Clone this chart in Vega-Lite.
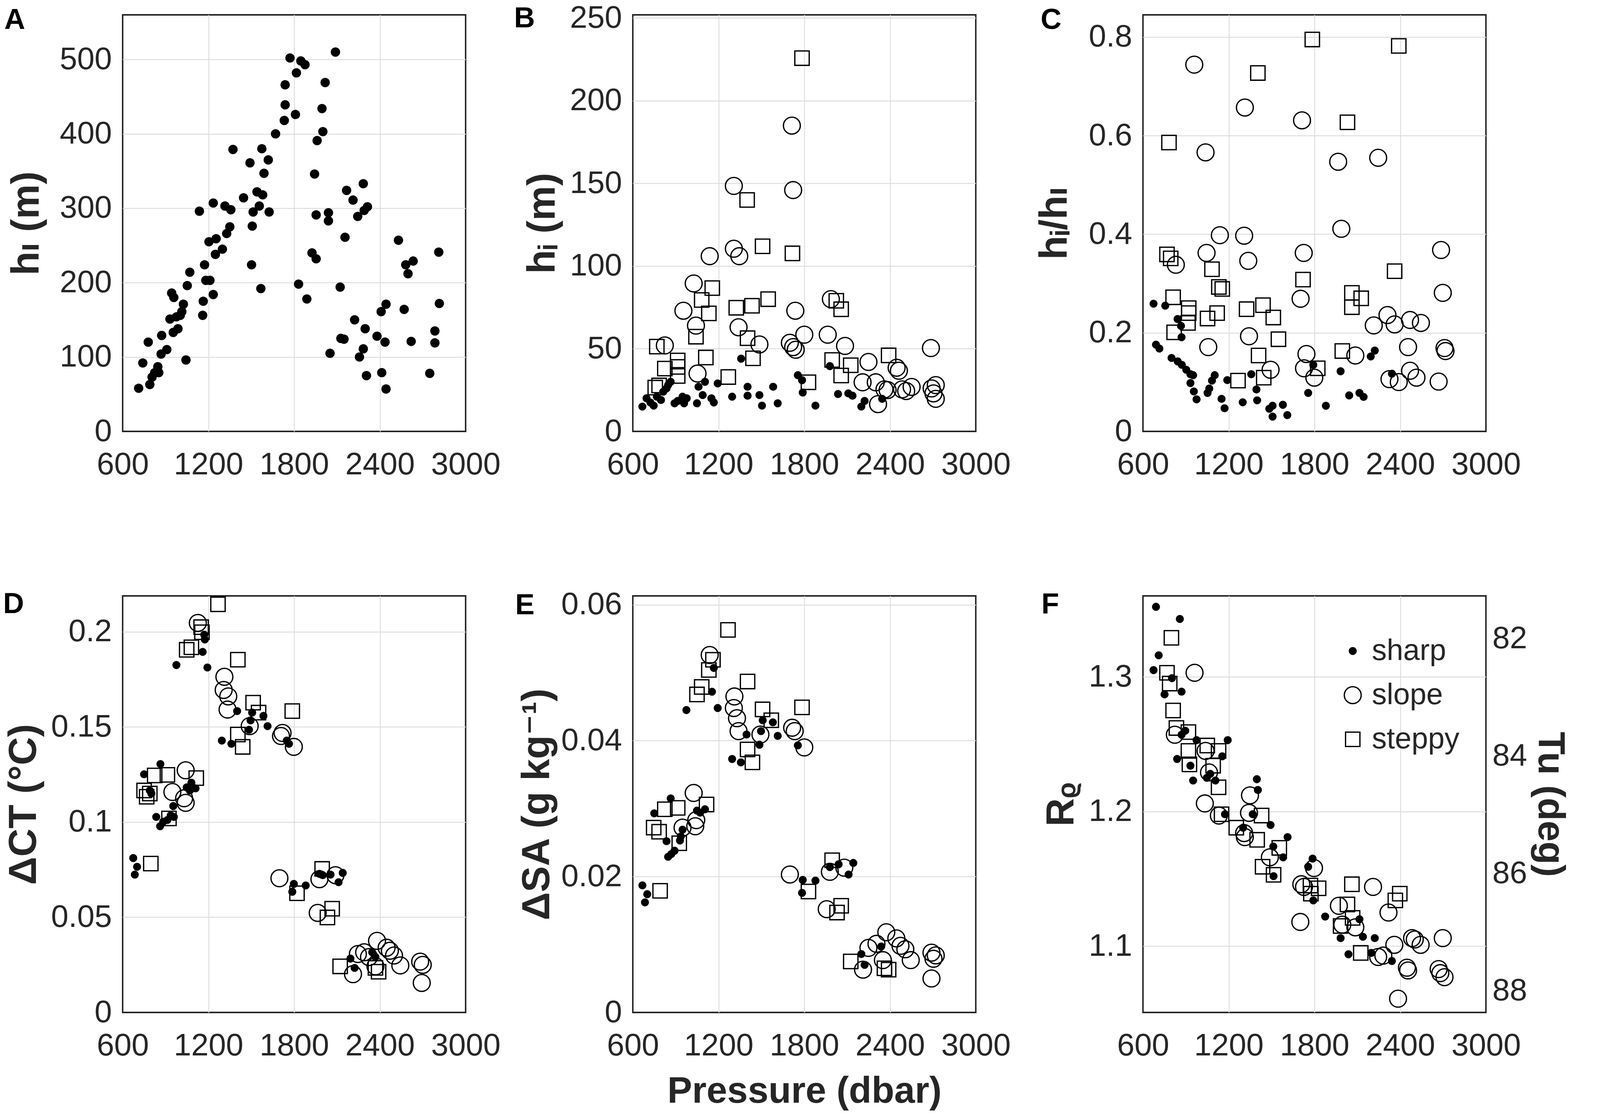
{
  "$schema": "https://vega.github.io/schema/vega-lite/v6.json",
  "background": "white",
  "padding": {"left": 6, "top": 4, "right": 0, "bottom": 0},
  "datasets": {
    "A": [
      {"p":712,"v":58},{"p":741,"v":92},{"p":779,"v":120},{"p":790,"v":63},{"p":806,"v":73},{"p":824,"v":79},{"p":846,"v":87},{"p":853,"v":79},{"p":873,"v":129},{"p":869,"v":104},
      {"p":909,"v":110},{"p":931,"v":151},{"p":943,"v":186},{"p":958,"v":180},{"p":954,"v":133},{"p":976,"v":154},{"p":987,"v":138},{"p":1003,"v":156},{"p":1014,"v":161},{"p":1025,"v":171},
      {"p":1043,"v":96},{"p":1052,"v":196},{"p":1070,"v":214},{"p":1137,"v":296},{"p":1160,"v":156},{"p":1164,"v":175},{"p":1173,"v":224},{"p":1182,"v":203},{"p":1211,"v":203},{"p":1234,"v":184},
      {"p":1204,"v":255},{"p":1234,"v":307},{"p":1254,"v":259},{"p":1249,"v":238},{"p":1298,"v":245},{"p":1316,"v":303},{"p":1328,"v":266},{"p":1350,"v":275},{"p":1357,"v":298},{"p":1372,"v":379},
      {"p":1446,"v":314},{"p":1491,"v":361},{"p":1502,"v":224},{"p":1507,"v":276},{"p":1513,"v":295},{"p":1540,"v":322},{"p":1556,"v":303},{"p":1574,"v":380},{"p":1580,"v":318},{"p":1589,"v":347},
      {"p":1619,"v":365},{"p":1567,"v":192},{"p":1625,"v":295},{"p":1670,"v":400},{"p":1731,"v":418},{"p":1737,"v":439},{"p":1737,"v":466},{"p":1771,"v":502},{"p":1809,"v":426},{"p":1816,"v":482},
      {"p":1847,"v":498},{"p":1876,"v":493},{"p":1831,"v":198},{"p":1889,"v":178},{"p":1925,"v":240},{"p":1954,"v":232},{"p":1943,"v":346},{"p":1961,"v":391},{"p":1995,"v":434},{"p":2001,"v":403},
      {"p":2017,"v":469},{"p":1954,"v":291},{"p":2040,"v":294},{"p":2040,"v":283},{"p":2051,"v":105},{"p":2089,"v":510},{"p":2122,"v":194},{"p":2127,"v":125},{"p":2149,"v":124},{"p":2156,"v":261},
      {"p":2167,"v":324},{"p":2212,"v":311},{"p":2223,"v":150},{"p":2245,"v":289},{"p":2257,"v":100},{"p":2284,"v":111},{"p":2284,"v":333},{"p":2290,"v":297},{"p":2313,"v":302},{"p":2297,"v":138},
      {"p":2306,"v":75},{"p":2380,"v":128},{"p":2413,"v":79},{"p":2409,"v":161},{"p":2443,"v":171},{"p":2436,"v":120},{"p":2443,"v":57},{"p":2530,"v":257},{"p":2570,"v":164},{"p":2581,"v":224},
      {"p":2597,"v":212},{"p":2633,"v":229},{"p":2619,"v":121},{"p":2749,"v":78},{"p":2785,"v":135},{"p":2785,"v":119},{"p":2812,"v":241},{"p":2816,"v":172}
    ],
    "B": [
      {"p":667,"v":15,"t":"sharp"},{"p":696,"v":20,"t":"sharp"},{"p":723,"v":17.5,"t":"sharp"},{"p":746,"v":15.6,"t":"sharp"},{"p":768,"v":21,"t":"sharp"},{"p":797,"v":19,"t":"sharp"},{"p":813,"v":24,"t":"sharp"},{"p":836,"v":26,"t":"sharp"},
      {"p":847,"v":28,"t":"sharp"},{"p":865,"v":30,"t":"sharp"},{"p":892,"v":17,"t":"sharp"},{"p":914,"v":18.4,"t":"sharp"},{"p":948,"v":21,"t":"sharp"},{"p":959,"v":17,"t":"sharp"},{"p":977,"v":20,"t":"sharp"},{"p":1049,"v":17,"t":"sharp"},
      {"p":1060,"v":27,"t":"sharp"},{"p":1089,"v":22,"t":"sharp"},{"p":1105,"v":30,"t":"sharp"},{"p":1150,"v":20,"t":"sharp"},{"p":1167,"v":17.5,"t":"sharp"},{"p":1194,"v":29,"t":"sharp"},{"p":1295,"v":21,"t":"sharp"},{"p":1358,"v":44,"t":"sharp"},
      {"p":1403,"v":27,"t":"sharp"},{"p":1403,"v":21.6,"t":"sharp"},{"p":1486,"v":22,"t":"sharp"},{"p":1504,"v":15.6,"t":"sharp"},{"p":1582,"v":27,"t":"sharp"},{"p":1614,"v":17,"t":"sharp"},{"p":1755,"v":34,"t":"sharp"},{"p":1784,"v":31,"t":"sharp"},
      {"p":1789,"v":23.5,"t":"sharp"},{"p":1878,"v":15.6,"t":"sharp"},{"p":1979,"v":39.5,"t":"sharp"},{"p":2036,"v":22.6,"t":"sharp"},{"p":2108,"v":23,"t":"sharp"},{"p":2137,"v":21.6,"t":"sharp"},{"p":2199,"v":15,"t":"sharp"},{"p":2222,"v":18.4,"t":"sharp"},
      {"p":2345,"v":19.7,"t":"sharp"},
      {"p":824,"v":52,"t":"slope"},{"p":954,"v":73,"t":"slope"},{"p":1026,"v":89.5,"t":"slope"},{"p":1042,"v":64,"t":"slope"},{"p":1053,"v":35,"t":"slope"},{"p":1138,"v":106,"t":"slope"},{"p":1307,"v":148.5,"t":"slope"},{"p":1307,"v":110.5,"t":"slope"},
      {"p":1345,"v":106,"t":"slope"},{"p":1340,"v":63,"t":"slope"},{"p":1486,"v":52.6,"t":"slope"},{"p":1713,"v":185,"t":"slope"},{"p":1722,"v":146,"t":"slope"},{"p":1737,"v":73,"t":"slope"},{"p":1699,"v":53.6,"t":"slope"},{"p":1722,"v":51,"t":"slope"},
      {"p":1740,"v":49.4,"t":"slope"},{"p":1800,"v":58.5,"t":"slope"},{"p":1964,"v":58.5,"t":"slope"},{"p":1986,"v":80,"t":"slope"},{"p":2085,"v":51.7,"t":"slope"},{"p":2249,"v":42,"t":"slope"},{"p":2208,"v":29.7,"t":"slope"},{"p":2300,"v":29.7,"t":"slope"},
      {"p":2316,"v":16.5,"t":"slope"},{"p":2361,"v":25.4,"t":"slope"},{"p":2383,"v":25,"t":"slope"},{"p":2446,"v":38.5,"t":"slope"},{"p":2462,"v":36.7,"t":"slope"},{"p":2484,"v":25.4,"t":"slope"},{"p":2513,"v":24.4,"t":"slope"},{"p":2551,"v":26.9,"t":"slope"},
      {"p":2686,"v":50.4,"t":"slope"},{"p":2691,"v":26,"t":"slope"},{"p":2704,"v":23,"t":"slope"},{"p":2720,"v":28,"t":"slope"},{"p":2720,"v":19.7,"t":"slope"},
      {"p":768,"v":51.3,"t":"steppy"},{"p":757,"v":26.5,"t":"steppy"},{"p":784,"v":27.8,"t":"steppy"},{"p":824,"v":38,"t":"steppy"},{"p":914,"v":42.9,"t":"steppy"},{"p":914,"v":39,"t":"steppy"},{"p":914,"v":33.5,"t":"steppy"},{"p":1042,"v":57.3,"t":"steppy"},
      {"p":1082,"v":79.5,"t":"steppy"},{"p":1132,"v":71.4,"t":"steppy"},{"p":1156,"v":86.7,"t":"steppy"},{"p":1111,"v":44.7,"t":"steppy"},{"p":1268,"v":32.9,"t":"steppy"},{"p":1324,"v":74.8,"t":"steppy"},{"p":1400,"v":140,"t":"steppy"},{"p":1403,"v":56.4,"t":"steppy"},
      {"p":1434,"v":76,"t":"steppy"},{"p":1441,"v":44.2,"t":"steppy"},{"p":1508,"v":112,"t":"steppy"},{"p":1547,"v":80,"t":"steppy"},{"p":1717,"v":107.7,"t":"steppy"},{"p":1784,"v":225.8,"t":"steppy"},{"p":1829,"v":29.7,"t":"steppy"},{"p":1995,"v":43.2,"t":"steppy"},
      {"p":2024,"v":79,"t":"steppy"},{"p":2058,"v":73.9,"t":"steppy"},{"p":2058,"v":33.8,"t":"steppy"},{"p":2125,"v":40,"t":"steppy"},{"p":2390,"v":46,"t":"steppy"}
    ],
    "C": [
      {"p":674,"v":0.259,"t":"sharp"},{"p":756,"v":0.255,"t":"sharp"},{"p":691,"v":0.176,"t":"sharp"},{"p":715,"v":0.168,"t":"sharp"},{"p":842,"v":0.228,"t":"sharp"},{"p":866,"v":0.214,"t":"sharp"},{"p":870,"v":0.191,"t":"sharp"},{"p":800,"v":0.149,"t":"sharp"},
      {"p":843,"v":0.142,"t":"sharp"},{"p":872,"v":0.135,"t":"sharp"},{"p":903,"v":0.125,"t":"sharp"},{"p":932,"v":0.116,"t":"sharp"},{"p":951,"v":0.114,"t":"sharp"},{"p":932,"v":0.098,"t":"sharp"},{"p":956,"v":0.081,"t":"sharp"},{"p":975,"v":0.065,"t":"sharp"},
      {"p":1052,"v":0.078,"t":"sharp"},{"p":1064,"v":0.087,"t":"sharp"},{"p":1083,"v":0.103,"t":"sharp"},{"p":1102,"v":0.114,"t":"sharp"},{"p":1150,"v":0.066,"t":"sharp"},{"p":1171,"v":0.047,"t":"sharp"},{"p":1190,"v":0.104,"t":"sharp"},{"p":1298,"v":0.059,"t":"sharp"},
      {"p":1358,"v":0.116,"t":"sharp"},{"p":1394,"v":0.085,"t":"sharp"},{"p":1399,"v":0.063,"t":"sharp"},{"p":1484,"v":0.046,"t":"sharp"},{"p":1507,"v":0.052,"t":"sharp"},{"p":1507,"v":0.030,"t":"sharp"},{"p":1579,"v":0.054,"t":"sharp"},{"p":1610,"v":0.033,"t":"sharp"},
      {"p":1756,"v":0.078,"t":"sharp"},{"p":1792,"v":0.135,"t":"sharp"},{"p":1880,"v":0.052,"t":"sharp"},{"p":1983,"v":0.122,"t":"sharp"},{"p":2043,"v":0.073,"t":"sharp"},{"p":2115,"v":0.078,"t":"sharp"},{"p":2144,"v":0.070,"t":"sharp"},{"p":2194,"v":0.152,"t":"sharp"},
      {"p":2222,"v":0.164,"t":"sharp"},{"p":2342,"v":0.117,"t":"sharp"},
      {"p":959,"v":0.744,"t":"slope"},{"p":830,"v":0.338,"t":"slope"},{"p":1038,"v":0.566,"t":"slope"},{"p":1045,"v":0.362,"t":"slope"},{"p":1057,"v":0.171,"t":"slope"},{"p":1138,"v":0.398,"t":"slope"},{"p":1313,"v":0.657,"t":"slope"},{"p":1308,"v":0.397,"t":"slope"},
      {"p":1337,"v":0.346,"t":"slope"},{"p":1342,"v":0.193,"t":"slope"},{"p":1493,"v":0.125,"t":"slope"},{"p":1713,"v":0.631,"t":"slope"},{"p":1725,"v":0.362,"t":"slope"},{"p":1703,"v":0.269,"t":"slope"},{"p":1744,"v":0.157,"t":"slope"},{"p":1727,"v":0.128,"t":"slope"},
      {"p":1799,"v":0.109,"t":"slope"},{"p":1966,"v":0.547,"t":"slope"},{"p":1988,"v":0.411,"t":"slope"},{"p":2086,"v":0.154,"t":"slope"},{"p":2246,"v":0.555,"t":"slope"},{"p":2215,"v":0.215,"t":"slope"},{"p":2311,"v":0.236,"t":"slope"},{"p":2361,"v":0.217,"t":"slope"},
      {"p":2325,"v":0.106,"t":"slope"},{"p":2390,"v":0.100,"t":"slope"},{"p":2469,"v":0.226,"t":"slope"},{"p":2545,"v":0.220,"t":"slope"},{"p":2455,"v":0.171,"t":"slope"},{"p":2469,"v":0.123,"t":"slope"},{"p":2514,"v":0.109,"t":"slope"},{"p":2669,"v":0.101,"t":"slope"},
      {"p":2686,"v":0.368,"t":"slope"},{"p":2698,"v":0.281,"t":"slope"},{"p":2710,"v":0.169,"t":"slope"},{"p":2717,"v":0.163,"t":"slope"},
      {"p":782,"v":0.586,"t":"steppy"},{"p":768,"v":0.359,"t":"steppy"},{"p":794,"v":0.351,"t":"steppy"},{"p":811,"v":0.272,"t":"steppy"},{"p":818,"v":0.201,"t":"steppy"},{"p":920,"v":0.250,"t":"steppy"},{"p":920,"v":0.240,"t":"steppy"},{"p":915,"v":0.220,"t":"steppy"},
      {"p":1052,"v":0.229,"t":"steppy"},{"p":1083,"v":0.329,"t":"steppy"},{"p":1131,"v":0.293,"t":"steppy"},{"p":1155,"v":0.289,"t":"steppy"},{"p":1119,"v":0.240,"t":"steppy"},{"p":1265,"v":0.103,"t":"steppy"},{"p":1325,"v":0.248,"t":"steppy"},{"p":1404,"v":0.727,"t":"steppy"},
      {"p":1409,"v":0.154,"t":"steppy"},{"p":1440,"v":0.256,"t":"steppy"},{"p":1445,"v":0.109,"t":"steppy"},{"p":1512,"v":0.231,"t":"steppy"},{"p":1548,"v":0.187,"t":"steppy"},{"p":1720,"v":0.308,"t":"steppy"},{"p":1785,"v":0.795,"t":"steppy"},{"p":1823,"v":0.128,"t":"steppy"},
      {"p":1995,"v":0.163,"t":"steppy"},{"p":2031,"v":0.627,"t":"steppy"},{"p":2062,"v":0.281,"t":"steppy"},{"p":2062,"v":0.252,"t":"steppy"},{"p":2127,"v":0.270,"t":"steppy"},{"p":2390,"v":0.782,"t":"steppy"},{"p":2361,"v":0.325,"t":"steppy"}
    ],
    "D": [
      {"p":674,"v":0.0811,"t":"sharp"},{"p":685,"v":0.0724,"t":"sharp"},{"p":701,"v":0.0765,"t":"sharp"},{"p":750,"v":0.1251,"t":"sharp"},{"p":790,"v":0.1166,"t":"sharp"},{"p":801,"v":0.1150,"t":"sharp"},{"p":864,"v":0.1305,"t":"sharp"},{"p":835,"v":0.1027,"t":"sharp"},
      {"p":862,"v":0.0978,"t":"sharp"},{"p":884,"v":0.1002,"t":"sharp"},{"p":913,"v":0.1011,"t":"sharp"},{"p":936,"v":0.1035,"t":"sharp"},{"p":954,"v":0.1084,"t":"sharp"},{"p":958,"v":0.1027,"t":"sharp"},{"p":1048,"v":0.1182,"t":"sharp"},{"p":1070,"v":0.1166,"t":"sharp"},
      {"p":1081,"v":0.1207,"t":"sharp"},{"p":1110,"v":0.1177,"t":"sharp"},{"p":976,"v":0.1825,"t":"sharp"},{"p":1160,"v":0.1894,"t":"sharp"},{"p":1175,"v":0.1959,"t":"sharp"},{"p":1171,"v":0.1984,"t":"sharp"},{"p":1193,"v":0.1812,"t":"sharp"},{"p":1294,"v":0.1428,"t":"sharp"},
      {"p":1361,"v":0.1411,"t":"sharp"},{"p":1401,"v":0.1583,"t":"sharp"},{"p":1484,"v":0.1485,"t":"sharp"},{"p":1495,"v":0.1534,"t":"sharp"},{"p":1506,"v":0.1575,"t":"sharp"},{"p":1585,"v":0.1558,"t":"sharp"},{"p":1614,"v":0.1504,"t":"sharp"},{"p":1764,"v":0.1411,"t":"sharp"},
      {"p":1748,"v":0.1428,"t":"sharp"},{"p":1798,"v":0.0675,"t":"sharp"},{"p":1787,"v":0.0634,"t":"sharp"},{"p":1881,"v":0.0667,"t":"sharp"},{"p":1977,"v":0.0728,"t":"sharp"},{"p":2000,"v":0.0721,"t":"sharp"},{"p":2055,"v":0.0724,"t":"sharp"},{"p":2111,"v":0.0684,"t":"sharp"},
      {"p":2140,"v":0.0733,"t":"sharp"},{"p":2194,"v":0.0283,"t":"sharp"},{"p":2223,"v":0.0234,"t":"sharp"},{"p":2346,"v":0.0316,"t":"sharp"},{"p":2369,"v":0.0291,"t":"sharp"},
      {"p":1041,"v":0.1272,"t":"slope"},{"p":948,"v":0.1158,"t":"slope"},{"p":1030,"v":0.1125,"t":"slope"},{"p":1041,"v":0.1101,"t":"slope"},{"p":1126,"v":0.2046,"t":"slope"},{"p":1312,"v":0.1763,"t":"slope"},{"p":1307,"v":0.1694,"t":"slope"},{"p":1339,"v":0.1660,"t":"slope"},
      {"p":1334,"v":0.1591,"t":"slope"},{"p":1489,"v":0.1504,"t":"slope"},{"p":1719,"v":0.1468,"t":"slope"},{"p":1708,"v":0.1452,"t":"slope"},{"p":1798,"v":0.1395,"t":"slope"},{"p":1697,"v":0.0705,"t":"slope"},{"p":1977,"v":0.0700,"t":"slope"},{"p":2089,"v":0.0721,"t":"slope"},
      {"p":1965,"v":0.0523,"t":"slope"},{"p":2212,"v":0.0201,"t":"slope"},{"p":2246,"v":0.0307,"t":"slope"},{"p":2290,"v":0.0316,"t":"slope"},{"p":2324,"v":0.0291,"t":"slope"},{"p":2369,"v":0.0242,"t":"slope"},{"p":2380,"v":0.0376,"t":"slope"},{"p":2447,"v":0.0340,"t":"slope"},
      {"p":2470,"v":0.0324,"t":"slope"},{"p":2499,"v":0.0299,"t":"slope"},{"p":2543,"v":0.0247,"t":"slope"},{"p":2682,"v":0.0267,"t":"slope"},{"p":2700,"v":0.0250,"t":"slope"},{"p":2693,"v":0.0155,"t":"slope"},
      {"p":1267,"v":0.2144,"t":"steppy"},{"p":1149,"v":0.2024,"t":"steppy"},{"p":1155,"v":0.1997,"t":"steppy"},{"p":1048,"v":0.1905,"t":"steppy"},{"p":1081,"v":0.1918,"t":"steppy"},{"p":1406,"v":0.1853,"t":"steppy"},{"p":1513,"v":0.1627,"t":"steppy"},{"p":1551,"v":0.1575,"t":"steppy"},
      {"p":1787,"v":0.1583,"t":"steppy"},{"p":1406,"v":0.1460,"t":"steppy"},{"p":1440,"v":0.1395,"t":"steppy"},{"p":750,"v":0.1166,"t":"steppy"},{"p":768,"v":0.1133,"t":"steppy"},{"p":790,"v":0.1150,"t":"steppy"},{"p":824,"v":0.1245,"t":"steppy"},{"p":913,"v":0.1248,"t":"steppy"},
      {"p":1115,"v":0.1231,"t":"steppy"},{"p":924,"v":0.1019,"t":"steppy"},{"p":797,"v":0.0782,"t":"steppy"},{"p":1996,"v":0.0754,"t":"steppy"},{"p":1820,"v":0.0626,"t":"steppy"},{"p":2066,"v":0.0545,"t":"steppy"},{"p":2033,"v":0.0499,"t":"steppy"},{"p":2122,"v":0.0242,"t":"steppy"},
      {"p":2369,"v":0.0234,"t":"steppy"},{"p":2391,"v":0.0214,"t":"steppy"}
    ],
    "E": [
      {"p":667,"v":0.0187,"t":"sharp"},{"p":701,"v":0.0174,"t":"sharp"},{"p":685,"v":0.0162,"t":"sharp"},{"p":750,"v":0.0293,"t":"sharp"},{"p":865,"v":0.0315,"t":"sharp"},{"p":836,"v":0.0252,"t":"sharp"},{"p":847,"v":0.0229,"t":"sharp"},{"p":869,"v":0.0233,"t":"sharp"},
      {"p":892,"v":0.0238,"t":"sharp"},{"p":930,"v":0.0253,"t":"sharp"},{"p":948,"v":0.0269,"t":"sharp"},{"p":936,"v":0.0259,"t":"sharp"},{"p":1049,"v":0.0297,"t":"sharp"},{"p":1071,"v":0.0294,"t":"sharp"},{"p":1105,"v":0.0299,"t":"sharp"},{"p":975,"v":0.0445,"t":"sharp"},
      {"p":1154,"v":0.0472,"t":"sharp"},{"p":1167,"v":0.0507,"t":"sharp"},{"p":1194,"v":0.0448,"t":"sharp"},{"p":1295,"v":0.0373,"t":"sharp"},{"p":1356,"v":0.0368,"t":"sharp"},{"p":1396,"v":0.0409,"t":"sharp"},{"p":1486,"v":0.0394,"t":"sharp"},{"p":1497,"v":0.0414,"t":"sharp"},
      {"p":1509,"v":0.0430,"t":"sharp"},{"p":1580,"v":0.0427,"t":"sharp"},{"p":1614,"v":0.0407,"t":"sharp"},{"p":1755,"v":0.0393,"t":"sharp"},{"p":1789,"v":0.0195,"t":"sharp"},{"p":1784,"v":0.0176,"t":"sharp"},{"p":1878,"v":0.0194,"t":"sharp"},{"p":1979,"v":0.0214,"t":"sharp"},
      {"p":2040,"v":0.0218,"t":"sharp"},{"p":2110,"v":0.0203,"t":"sharp"},{"p":2143,"v":0.0220,"t":"sharp"},{"p":2199,"v":0.0086,"t":"sharp"},{"p":2222,"v":0.0070,"t":"sharp"},{"p":2338,"v":0.0097,"t":"sharp"},
      {"p":1138,"v":0.0526,"t":"slope"},{"p":1311,"v":0.0465,"t":"slope"},{"p":1307,"v":0.0448,"t":"slope"},{"p":1329,"v":0.0433,"t":"slope"},{"p":1340,"v":0.0414,"t":"slope"},{"p":1493,"v":0.0409,"t":"slope"},{"p":1715,"v":0.0419,"t":"slope"},{"p":1733,"v":0.0414,"t":"slope"},
      {"p":1800,"v":0.0390,"t":"slope"},{"p":1026,"v":0.0323,"t":"slope"},{"p":948,"v":0.0272,"t":"slope"},{"p":1044,"v":0.0283,"t":"slope"},{"p":1037,"v":0.0274,"t":"slope"},{"p":1699,"v":0.0203,"t":"slope"},{"p":1979,"v":0.0207,"t":"slope"},{"p":2080,"v":0.0213,"t":"slope"},
      {"p":1957,"v":0.0152,"t":"slope"},{"p":2249,"v":0.0095,"t":"slope"},{"p":2211,"v":0.0063,"t":"slope"},{"p":2305,"v":0.0101,"t":"slope"},{"p":2374,"v":0.0118,"t":"slope"},{"p":2444,"v":0.0109,"t":"slope"},{"p":2473,"v":0.0098,"t":"slope"},{"p":2507,"v":0.0093,"t":"slope"},
      {"p":2545,"v":0.0077,"t":"slope"},{"p":2690,"v":0.0088,"t":"slope"},{"p":2704,"v":0.0079,"t":"slope"},{"p":2720,"v":0.0084,"t":"slope"},{"p":2690,"v":0.0050,"t":"slope"},{"p":2350,"v":0.0077,"t":"slope"},
      {"p":1266,"v":0.0563,"t":"steppy"},{"p":1161,"v":0.0519,"t":"steppy"},{"p":1132,"v":0.0504,"t":"steppy"},{"p":1082,"v":0.0479,"t":"steppy"},{"p":1049,"v":0.0468,"t":"steppy"},{"p":1403,"v":0.0487,"t":"steppy"},{"p":1508,"v":0.0446,"t":"steppy"},{"p":1569,"v":0.0430,"t":"steppy"},
      {"p":1784,"v":0.0449,"t":"steppy"},{"p":1403,"v":0.0387,"t":"steppy"},{"p":1437,"v":0.0368,"t":"steppy"},{"p":746,"v":0.0272,"t":"steppy"},{"p":784,"v":0.0266,"t":"steppy"},{"p":824,"v":0.0299,"t":"steppy"},{"p":914,"v":0.0301,"t":"steppy"},{"p":1116,"v":0.0306,"t":"steppy"},
      {"p":925,"v":0.0249,"t":"steppy"},{"p":791,"v":0.0179,"t":"steppy"},{"p":1995,"v":0.0224,"t":"steppy"},{"p":1829,"v":0.0178,"t":"steppy"},{"p":2058,"v":0.0157,"t":"steppy"},{"p":2029,"v":0.0147,"t":"steppy"},{"p":2125,"v":0.0075,"t":"steppy"},{"p":2361,"v":0.0065,"t":"steppy"},
      {"p":2390,"v":0.0063,"t":"steppy"}
    ],
    "F": [
      {"p":691,"v":1.352,"t":"sharp"},{"p":710,"v":1.316,"t":"sharp"},{"p":674,"v":1.305,"t":"sharp"},{"p":751,"v":1.287,"t":"sharp"},{"p":803,"v":1.299,"t":"sharp"},{"p":858,"v":1.343,"t":"sharp"},{"p":870,"v":1.289,"t":"sharp"},{"p":839,"v":1.239,"t":"sharp"},
      {"p":870,"v":1.257,"t":"sharp"},{"p":896,"v":1.260,"t":"sharp"},{"p":932,"v":1.234,"t":"sharp"},{"p":951,"v":1.223,"t":"sharp"},{"p":975,"v":1.253,"t":"sharp"},{"p":1047,"v":1.225,"t":"sharp"},{"p":1071,"v":1.228,"t":"sharp"},{"p":1107,"v":1.223,"t":"sharp"},
      {"p":1155,"v":1.241,"t":"sharp"},{"p":1193,"v":1.253,"t":"sharp"},{"p":1174,"v":1.198,"t":"sharp"},{"p":1301,"v":1.188,"t":"sharp"},{"p":1397,"v":1.224,"t":"sharp"},{"p":1404,"v":1.216,"t":"sharp"},{"p":1368,"v":1.198,"t":"sharp"},{"p":1493,"v":1.190,"t":"sharp"},
      {"p":1612,"v":1.181,"t":"sharp"},{"p":1512,"v":1.174,"t":"sharp"},{"p":1581,"v":1.166,"t":"sharp"},{"p":1514,"v":1.152,"t":"sharp"},{"p":1756,"v":1.159,"t":"sharp"},{"p":1787,"v":1.165,"t":"sharp"},{"p":1792,"v":1.134,"t":"sharp"},{"p":1875,"v":1.122,"t":"sharp"},
      {"p":1983,"v":1.106,"t":"sharp"},{"p":2038,"v":1.094,"t":"sharp"},{"p":2115,"v":1.120,"t":"sharp"},{"p":2139,"v":1.107,"t":"sharp"},{"p":2222,"v":1.106,"t":"sharp"},{"p":2198,"v":1.095,"t":"sharp"},{"p":2342,"v":1.089,"t":"sharp"},
      {"p":961,"v":1.303,"t":"slope"},{"p":823,"v":1.257,"t":"slope"},{"p":1038,"v":1.245,"t":"slope"},{"p":1062,"v":1.229,"t":"slope"},{"p":1033,"v":1.206,"t":"slope"},{"p":1131,"v":1.197,"t":"slope"},{"p":1349,"v":1.212,"t":"slope"},{"p":1342,"v":1.199,"t":"slope"},
      {"p":1308,"v":1.184,"t":"slope"},{"p":1313,"v":1.181,"t":"slope"},{"p":1488,"v":1.166,"t":"slope"},{"p":1797,"v":1.158,"t":"slope"},{"p":1708,"v":1.146,"t":"slope"},{"p":1727,"v":1.144,"t":"slope"},{"p":1701,"v":1.118,"t":"slope"},{"p":1971,"v":1.130,"t":"slope"},
      {"p":1995,"v":1.116,"t":"slope"},{"p":2086,"v":1.114,"t":"slope"},{"p":2210,"v":1.144,"t":"slope"},{"p":2318,"v":1.125,"t":"slope"},{"p":2246,"v":1.092,"t":"slope"},{"p":2282,"v":1.093,"t":"slope"},{"p":2359,"v":1.101,"t":"slope"},{"p":2385,"v":1.061,"t":"slope"},
      {"p":2447,"v":1.084,"t":"slope"},{"p":2455,"v":1.082,"t":"slope"},{"p":2483,"v":1.106,"t":"slope"},{"p":2502,"v":1.105,"t":"slope"},{"p":2543,"v":1.101,"t":"slope"},{"p":2698,"v":1.106,"t":"slope"},{"p":2669,"v":1.083,"t":"slope"},{"p":2681,"v":1.080,"t":"slope"},
      {"p":2710,"v":1.077,"t":"slope"},
      {"p":799,"v":1.329,"t":"steppy"},{"p":768,"v":1.303,"t":"steppy"},{"p":787,"v":1.295,"t":"steppy"},{"p":811,"v":1.275,"t":"steppy"},{"p":834,"v":1.262,"t":"steppy"},{"p":918,"v":1.259,"t":"steppy"},{"p":918,"v":1.245,"t":"steppy"},{"p":1050,"v":1.249,"t":"steppy"},
      {"p":1129,"v":1.245,"t":"steppy"},{"p":1091,"v":1.234,"t":"steppy"},{"p":925,"v":1.235,"t":"steppy"},{"p":1129,"v":1.218,"t":"steppy"},{"p":1150,"v":1.198,"t":"steppy"},{"p":1253,"v":1.188,"t":"steppy"},{"p":1430,"v":1.197,"t":"steppy"},{"p":1399,"v":1.179,"t":"steppy"},
      {"p":1554,"v":1.173,"t":"steppy"},{"p":1437,"v":1.159,"t":"steppy"},{"p":1514,"v":1.153,"t":"steppy"},{"p":1772,"v":1.145,"t":"steppy"},{"p":1829,"v":1.143,"t":"steppy"},{"p":1775,"v":1.139,"t":"steppy"},{"p":2062,"v":1.146,"t":"steppy"},{"p":2031,"v":1.131,"t":"steppy"},
      {"p":2067,"v":1.121,"t":"steppy"},{"p":1983,"v":1.115,"t":"steppy"},{"p":2124,"v":1.095,"t":"steppy"},{"p":2397,"v":1.139,"t":"steppy"},{"p":2366,"v":1.134,"t":"steppy"}
    ],
    "TuAxis": [{"tu": 81.27}, {"tu": 88.37}]
  },
  "columns": 3,
  "spacing": {"row": 421, "column": 428},
  "bounds": "flush",
  "resolve": {"scale": {"shape": "independent", "fill": "independent", "size": "independent", "stroke": "independent"}},
  "concat": [
    {
      "width": 878, "height": 1066,
      "title": {"text": "A", "dx": -303, "dy": 56},
      "data": {"name": "A"},
      "mark": {"type": "circle", "size": 572, "color": "black", "opacity": 1},
      "encoding": {
        "x": {"field": "p", "type": "quantitative", "scale": {"domain": [600, 3000], "nice": false, "zero": false}, "axis": {"values": [600, 1200, 1800, 2400, 3000], "title": null}},
        "y": {"field": "v", "type": "quantitative", "scale": {"domain": [0, 560], "nice": false}, "axis": {"values": [0, 100, 200, 300, 400, 500], "title": "hₗ (m)", "titlePadding": 33}}
      }
    },
    {
      "width": 878, "height": 1066,
      "title": {"text": "B", "dx": -304, "dy": 84},
      "data": {"name": "B"},
      "mark": {"type": "point", "filled": false, "stroke": "black", "strokeWidth": 3.3, "opacity": 1},
      "encoding": {
        "x": {"field": "p", "type": "quantitative", "scale": {"domain": [600, 3000], "nice": false, "zero": false}, "axis": {"values": [600, 1200, 1800, 2400, 3000], "title": null}},
        "y": {"field": "v", "type": "quantitative", "scale": {"domain": [0, 252], "nice": false}, "axis": {"values": [0, 50, 100, 150, 200, 250], "title": "hᵢ (m)", "titlePadding": 18}},
        "shape": {"field": "t", "type": "nominal", "scale": {"domain": ["sharp", "slope", "steppy"], "range": ["circle", "circle", "square"]}, "legend": null},
        "fill": {"field": "t", "type": "nominal", "scale": {"domain": ["sharp", "slope", "steppy"], "range": ["black", "transparent", "transparent"]}, "legend": null},
        "size": {"field": "t", "type": "nominal", "scale": {"type": "ordinal", "domain": ["sharp", "slope", "steppy"], "range": [300, 1870, 1354]}, "legend": null}
      }
    },
    {
      "width": 878, "height": 1066,
      "title": {"text": "C", "dx": -262, "dy": 56},
      "data": {"name": "C"},
      "mark": {"type": "point", "filled": false, "stroke": "black", "strokeWidth": 3.3, "opacity": 1},
      "encoding": {
        "x": {"field": "p", "type": "quantitative", "scale": {"domain": [600, 3000], "nice": false, "zero": false}, "axis": {"values": [600, 1200, 1800, 2400, 3000], "title": null}},
        "y": {"field": "v", "type": "quantitative", "scale": {"domain": [0, 0.845], "nice": false}, "axis": {"values": [0, 0.2, 0.4, 0.6, 0.8], "title": "hᵢ/hₗ", "titlePadding": 35}},
        "shape": {"field": "t", "type": "nominal", "scale": {"domain": ["sharp", "slope", "steppy"], "range": ["circle", "circle", "square"]}, "legend": null},
        "fill": {"field": "t", "type": "nominal", "scale": {"domain": ["sharp", "slope", "steppy"], "range": ["black", "transparent", "transparent"]}, "legend": null},
        "size": {"field": "t", "type": "nominal", "scale": {"type": "ordinal", "domain": ["sharp", "slope", "steppy"], "range": [300, 1870, 1354]}, "legend": null}
      }
    },
    {
      "width": 878, "height": 1066,
      "title": {"text": "D", "dx": -306, "dy": 68},
      "data": {"name": "D"},
      "mark": {"type": "point", "filled": false, "stroke": "black", "strokeWidth": 3.3, "opacity": 1},
      "encoding": {
        "x": {"field": "p", "type": "quantitative", "scale": {"domain": [600, 3000], "nice": false, "zero": false}, "axis": {"values": [600, 1200, 1800, 2400, 3000], "title": null}},
        "y": {"field": "v", "type": "quantitative", "scale": {"domain": [0, 0.2188], "nice": false}, "axis": {"values": [0, 0.05, 0.1, 0.15, 0.2], "title": "ΔCT (°C)", "titlePadding": 18}},
        "shape": {"field": "t", "type": "nominal", "scale": {"domain": ["sharp", "slope", "steppy"], "range": ["circle", "circle", "square"]}, "legend": null},
        "fill": {"field": "t", "type": "nominal", "scale": {"domain": ["sharp", "slope", "steppy"], "range": ["black", "transparent", "transparent"]}, "legend": null},
        "size": {"field": "t", "type": "nominal", "scale": {"type": "ordinal", "domain": ["sharp", "slope", "steppy"], "range": [300, 1870, 1354]}, "legend": null}
      }
    },
    {
      "width": 878, "height": 1066,
      "title": {"text": "E", "dx": -301, "dy": 84},
      "data": {"name": "E"},
      "mark": {"type": "point", "filled": false, "stroke": "black", "strokeWidth": 3.3, "opacity": 1},
      "encoding": {
        "x": {"field": "p", "type": "quantitative", "scale": {"domain": [600, 3000], "nice": false, "zero": false}, "axis": {"values": [600, 1200, 1800, 2400, 3000], "title": "Pressure (dbar)"}},
        "y": {"field": "v", "type": "quantitative", "scale": {"domain": [0, 0.0613], "nice": false}, "axis": {"values": [0, 0.02, 0.04, 0.06], "title": "ΔSA (g kg⁻¹)", "titlePadding": 10}},
        "shape": {"field": "t", "type": "nominal", "scale": {"domain": ["sharp", "slope", "steppy"], "range": ["circle", "circle", "square"]}, "legend": null},
        "fill": {"field": "t", "type": "nominal", "scale": {"domain": ["sharp", "slope", "steppy"], "range": ["black", "transparent", "transparent"]}, "legend": null},
        "size": {"field": "t", "type": "nominal", "scale": {"type": "ordinal", "domain": ["sharp", "slope", "steppy"], "range": [300, 1870, 1354]}, "legend": null}
      }
    },
    {
      "width": 878, "height": 1066,
      "title": {"text": "F", "dx": -260, "dy": 68},
      "layer": [
        {
          "data": {"name": "F"},
          "mark": {"type": "point", "filled": false, "strokeWidth": 3.3, "opacity": 1},
          "encoding": {
            "x": {"field": "p", "type": "quantitative", "scale": {"domain": [600, 3000], "nice": false, "zero": false}, "axis": {"values": [600, 1200, 1800, 2400, 3000], "title": null}},
            "y": {"field": "v", "type": "quantitative", "scale": {"domain": [1.0508, 1.3601], "nice": false, "zero": false}, "axis": {"values": [1.1, 1.2, 1.3], "title": "Rᵨ", "titlePadding": 18}},
            "shape": {"field": "t", "type": "nominal", "scale": {"domain": ["sharp", "slope", "steppy"], "range": ["circle", "circle", "square"]},
              "legend": {"orient": "none", "legendX": 499, "legendY": 103, "title": null, "padding": 0, "labelFontSize": 76, "labelLimit": 1000, "labelColor": "#262626", "labelOffset": 11, "rowPadding": 37, "symbolStrokeWidth": 3.3}},
            "fill": {"field": "t", "type": "nominal", "scale": {"domain": ["sharp", "slope", "steppy"], "range": ["black", "transparent", "transparent"]},
              "legend": {"orient": "none", "legendX": 499, "legendY": 103, "title": null, "padding": 0, "labelFontSize": 76, "labelLimit": 1000, "labelColor": "#262626", "labelOffset": 11, "rowPadding": 37, "symbolStrokeWidth": 3.3}},
            "stroke": {"field": "t", "type": "nominal", "scale": {"domain": ["sharp", "slope", "steppy"], "range": ["black", "black", "black"]},
              "legend": {"orient": "none", "legendX": 499, "legendY": 103, "title": null, "padding": 0, "labelFontSize": 76, "labelLimit": 1000, "labelColor": "#262626", "labelOffset": 11, "rowPadding": 37, "symbolStrokeWidth": 3.3}},
            "size": {"field": "t", "type": "nominal", "scale": {"type": "ordinal", "domain": ["sharp", "slope", "steppy"], "range": [300, 1870, 1354]},
              "legend": {"orient": "none", "legendX": 499, "legendY": 103, "title": null, "padding": 0, "labelFontSize": 76, "labelLimit": 1000, "labelColor": "#262626", "labelOffset": 11, "rowPadding": 37, "symbolStrokeWidth": 3.3}}
          }
        },
        {
          "data": {"name": "TuAxis"},
          "mark": {"type": "point", "opacity": 0},
          "encoding": {
            "y": {"field": "tu", "type": "quantitative", "scale": {"domain": [81.27, 88.37], "reverse": true, "nice": false, "zero": false},
              "axis": {"orient": "right", "values": [82, 84, 86, 88], "title": "Tu (deg)", "grid": false, "labelPadding": 16, "titlePadding": 10, "titleFontSize": 96}}
          }
        }
      ],
      "resolve": {"scale": {"y": "independent"}}
    }
  ],
  "config": {
    "font": "Liberation Sans",
    "view": {"stroke": "#262626", "strokeWidth": 3.8},
    "title": {"fontSize": 74, "fontWeight": "bold", "color": "black", "anchor": "start", "frame": "group", "offset": 0},
    "axis": {
      "labelFont": "Liberation Sans",
      "labelFontSize": 80,
      "labelColor": "#262626",
      "labelFlush": false,
      "labelOverlap": false,
      "labelLimit": 1000,
      "labelPadding": 28,
      "labelExpr": "toString(datum.value)",
      "titleFont": "Liberation Sans, DejaVu Sans",
      "titleFontSize": 100,
      "titleFontWeight": "bold",
      "titleColor": "#262626",
      "titlePadding": 28,
      "titleLimit": 2000,
      "domain": false,
      "ticks": false,
      "grid": true,
      "gridColor": "#dedede",
      "gridWidth": 2.4
    },
    "axisX": {
      "labelPadding": 46,
      "titlePadding": 30,
      "titleFontSize": 95,
      "gridOpacity": {"condition": {"test": "datum.value == 600 || datum.value == 3000", "value": 0}, "value": 1}
    },
    "axisY": {
      "gridOpacity": {"condition": {"test": "datum.value == 0", "value": 0}, "value": 1}
    },
    "legend": {"labelFont": "Liberation Sans"}
  }
}
